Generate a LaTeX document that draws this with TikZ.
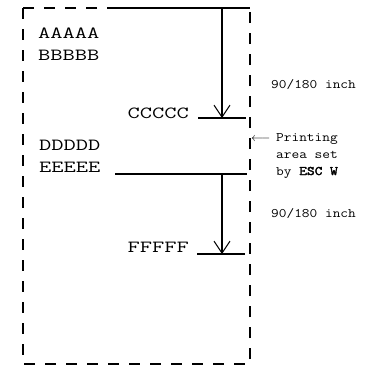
\documentclass[tikz,border=0pt]{standalone}
\usepackage{fontspec}
\newfontfamily\bigmono[FakeStretch=1.4]{Latin Modern Mono}
\newfontfamily\smallmono[FakeStretch=1.15, BoldFont={Latin Modern Mono}, BoldFeatures={FakeBold=2.5}]{Latin Modern Mono}
\usetikzlibrary{arrows.meta,calc}
\tikzset{
    area/.style = {
    	line width=1.8pt,
    	dash pattern=on 11pt off 10pt
    },
    level/.style = {
    	line width=1.8pt,
    	black
    },
    drop/.style = {
    	line width=1.1pt,
    	-{Straight Barb[length=12pt,width=16pt,line width=1pt]}
    },
    bigtext/.style = {
    	inner sep=0pt,
    	font=\bigmono\fontsize{17}{20}\selectfont
    },
    smalltext/.style = {
    	inner sep=0pt,
    	anchor=base west,
    	font=\smallmono\fontsize{13}{15}\selectfont
    }
}
\begin{document}
\begin{tikzpicture}[x=1pt, y=-1pt]
	\useasboundingbox (0,0) rectangle (381,367);

	% Printing area corners
	\coordinate (TL) at (23,8);
	\coordinate (TR) at (250,8);
	\coordinate (BR) at (250,364);
	\coordinate (lead) at (117,8);

	\path (TR) + (-28,0) coordinate (AT);
	\path (TR) + (-28,110) coordinate (AB);
	\path (TR) + (-52,110) coordinate (CL);
	\path (TR) + (-4,110) coordinate (CR);

	\path (TR) + (-135,166) coordinate (ML);
	\path (TR) + (-3,166) coordinate (MR);
	\path (TR) + (-28,166) coordinate (FT);
	\path (TR) + (-28,246) coordinate (FB);
	\path (TR) + (-53,246) coordinate (FL);
	\path (TR) + (-5,246) coordinate (FR);

	% Page
	\draw[area] (TL) rectangle (BR);
	\draw[level] (lead) -- (TR);

	% Lines and steps
	\draw[level] (CL) -- (CR);
	\draw[level] (ML) -- (MR);
	\draw[level] (FL) -- (FR);
	\draw[drop] (AT) -- (AB);
	\draw[drop] (FT) -- (FB);

	% Texts
	\node[bigtext, anchor=base west] (aaaaa) at (38,38) {AAAAA};
	\node[bigtext, anchor=base west] (bbbbb) at (38,60) {BBBBB};
	\node[bigtext, anchor=base east] (ccccc) at (189,118) {CCCCC};
	\node[bigtext, anchor=base west] (ddddd) at (39,150) {DDDDD};
	\node[bigtext, anchor=base west] (eeeee) at (39,172) {EEEEE};
	\node[bigtext, anchor=base east] (fffff) at (189,252) {FFFFF};

	\node[smalltext] (gapone) at (271,88) {90/180 inch};
	\node[smalltext] (pointer) at (251,141) {$\longleftarrow$};
	\node[smalltext] (noteone) at (276,141) {Printing};
	\node[smalltext] (notetwo) at (276,158) {area set};
	\node[smalltext] (notethree) at (276,175) {by \textbf{ESC W}};
	\node[smalltext] (gaptwo) at (271,217) {90/180 inch};
\end{tikzpicture}
\end{document}
